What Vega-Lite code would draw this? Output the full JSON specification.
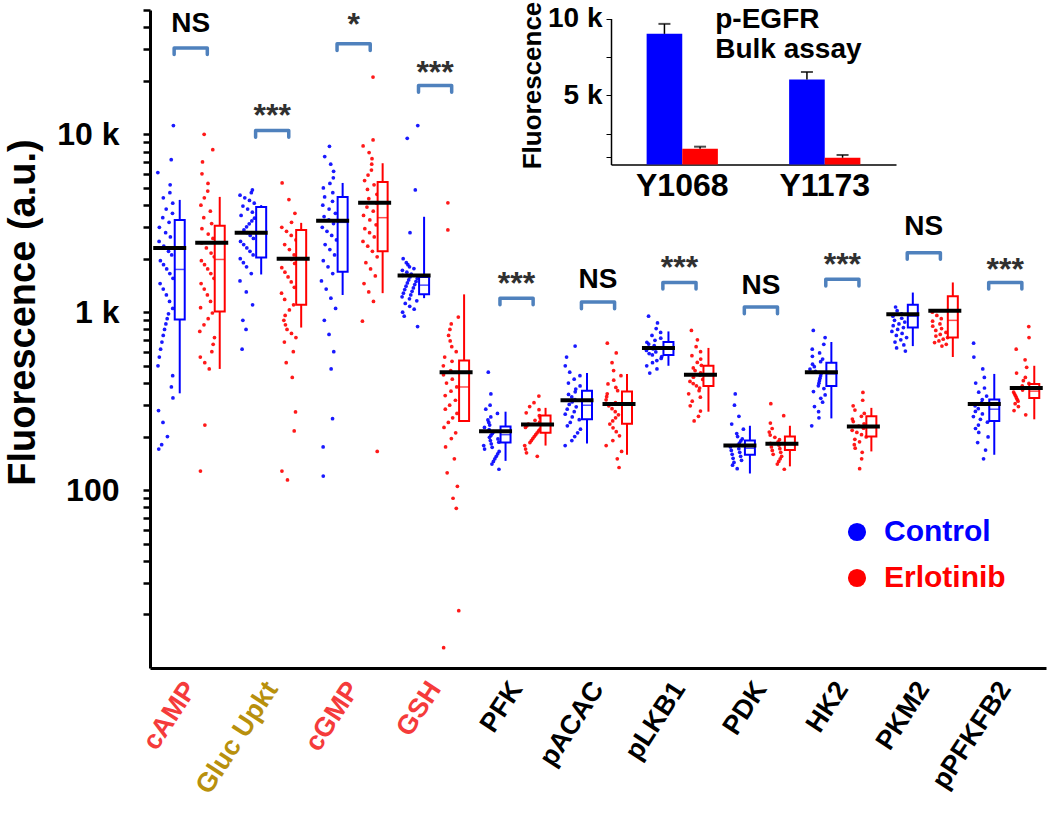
{
"$schema": "https://vega.github.io/schema/vega-lite/v6.json",
"width": 896, "height": 658,
"autosize": {"type": "none"},
"padding": {"left": 150, "top": 10, "right": 4, "bottom": 157},
"config": {"view": {"stroke": null}, "font": "Liberation Sans"},
"datasets": {
"pts": [
{"c":"cAMP","g":"Control","v":11200},{"c":"cAMP","g":"Control","v":7200},{"c":"cAMP","g":"Control","v":6100},{"c":"cAMP","g":"Control","v":5200},{"c":"cAMP","g":"Control","v":4700},{"c":"cAMP","g":"Control","v":4400},{"c":"cAMP","g":"Control","v":4100},{"c":"cAMP","g":"Control","v":3800},{"c":"cAMP","g":"Control","v":3600},{"c":"cAMP","g":"Control","v":3400},{"c":"cAMP","g":"Control","v":3200},{"c":"cAMP","g":"Control","v":3000},{"c":"cAMP","g":"Control","v":2800},{"c":"cAMP","g":"Control","v":2650},{"c":"cAMP","g":"Control","v":2500},{"c":"cAMP","g":"Control","v":2350},{"c":"cAMP","g":"Control","v":2200},{"c":"cAMP","g":"Control","v":2100},{"c":"cAMP","g":"Control","v":1950},{"c":"cAMP","g":"Control","v":1850},{"c":"cAMP","g":"Control","v":1750},{"c":"cAMP","g":"Control","v":1650},{"c":"cAMP","g":"Control","v":1550},{"c":"cAMP","g":"Control","v":1450},{"c":"cAMP","g":"Control","v":1350},{"c":"cAMP","g":"Control","v":1250},{"c":"cAMP","g":"Control","v":1150},{"c":"cAMP","g":"Control","v":1050},{"c":"cAMP","g":"Control","v":980},{"c":"cAMP","g":"Control","v":920},{"c":"cAMP","g":"Control","v":860},{"c":"cAMP","g":"Control","v":800},{"c":"cAMP","g":"Control","v":740},{"c":"cAMP","g":"Control","v":680},{"c":"cAMP","g":"Control","v":620},{"c":"cAMP","g":"Control","v":560},{"c":"cAMP","g":"Control","v":500},{"c":"cAMP","g":"Control","v":440},{"c":"cAMP","g":"Control","v":380},{"c":"cAMP","g":"Control","v":330},{"c":"cAMP","g":"Control","v":280},{"c":"cAMP","g":"Control","v":240},{"c":"cAMP","g":"Control","v":200},{"c":"cAMP","g":"Control","v":180},{"c":"cAMP","g":"Control","v":170},
{"c":"cAMP","g":"Erlotinib","v":10000},{"c":"cAMP","g":"Erlotinib","v":8200},{"c":"cAMP","g":"Erlotinib","v":7000},{"c":"cAMP","g":"Erlotinib","v":6000},{"c":"cAMP","g":"Erlotinib","v":5300},{"c":"cAMP","g":"Erlotinib","v":4800},{"c":"cAMP","g":"Erlotinib","v":4400},{"c":"cAMP","g":"Erlotinib","v":4000},{"c":"cAMP","g":"Erlotinib","v":3700},{"c":"cAMP","g":"Erlotinib","v":3400},{"c":"cAMP","g":"Erlotinib","v":3150},{"c":"cAMP","g":"Erlotinib","v":2950},{"c":"cAMP","g":"Erlotinib","v":2750},{"c":"cAMP","g":"Erlotinib","v":2600},{"c":"cAMP","g":"Erlotinib","v":2450},{"c":"cAMP","g":"Erlotinib","v":2300},{"c":"cAMP","g":"Erlotinib","v":2150},{"c":"cAMP","g":"Erlotinib","v":2050},{"c":"cAMP","g":"Erlotinib","v":1950},{"c":"cAMP","g":"Erlotinib","v":1850},{"c":"cAMP","g":"Erlotinib","v":1750},{"c":"cAMP","g":"Erlotinib","v":1650},{"c":"cAMP","g":"Erlotinib","v":1550},{"c":"cAMP","g":"Erlotinib","v":1450},{"c":"cAMP","g":"Erlotinib","v":1350},{"c":"cAMP","g":"Erlotinib","v":1250},{"c":"cAMP","g":"Erlotinib","v":1150},{"c":"cAMP","g":"Erlotinib","v":1060},{"c":"cAMP","g":"Erlotinib","v":990},{"c":"cAMP","g":"Erlotinib","v":920},{"c":"cAMP","g":"Erlotinib","v":850},{"c":"cAMP","g":"Erlotinib","v":780},{"c":"cAMP","g":"Erlotinib","v":720},{"c":"cAMP","g":"Erlotinib","v":660},{"c":"cAMP","g":"Erlotinib","v":600},{"c":"cAMP","g":"Erlotinib","v":560},{"c":"cAMP","g":"Erlotinib","v":520},{"c":"cAMP","g":"Erlotinib","v":480},{"c":"cAMP","g":"Erlotinib","v":232},{"c":"cAMP","g":"Erlotinib","v":128},
{"c":"Gluc Upkt","g":"Control","v":4870},{"c":"Gluc Upkt","g":"Control","v":4700},{"c":"Gluc Upkt","g":"Control","v":4550},{"c":"Gluc Upkt","g":"Control","v":4400},{"c":"Gluc Upkt","g":"Control","v":4250},{"c":"Gluc Upkt","g":"Control","v":4100},{"c":"Gluc Upkt","g":"Control","v":3950},{"c":"Gluc Upkt","g":"Control","v":3800},{"c":"Gluc Upkt","g":"Control","v":3650},{"c":"Gluc Upkt","g":"Control","v":3500},{"c":"Gluc Upkt","g":"Control","v":3380},{"c":"Gluc Upkt","g":"Control","v":3260},{"c":"Gluc Upkt","g":"Control","v":3140},{"c":"Gluc Upkt","g":"Control","v":3020},{"c":"Gluc Upkt","g":"Control","v":2900},{"c":"Gluc Upkt","g":"Control","v":2800},{"c":"Gluc Upkt","g":"Control","v":2700},{"c":"Gluc Upkt","g":"Control","v":2600},{"c":"Gluc Upkt","g":"Control","v":2500},{"c":"Gluc Upkt","g":"Control","v":2400},{"c":"Gluc Upkt","g":"Control","v":2300},{"c":"Gluc Upkt","g":"Control","v":2200},{"c":"Gluc Upkt","g":"Control","v":2100},{"c":"Gluc Upkt","g":"Control","v":2000},{"c":"Gluc Upkt","g":"Control","v":1900},{"c":"Gluc Upkt","g":"Control","v":1800},{"c":"Gluc Upkt","g":"Control","v":1650},{"c":"Gluc Upkt","g":"Control","v":1500},{"c":"Gluc Upkt","g":"Control","v":1300},{"c":"Gluc Upkt","g":"Control","v":1100},{"c":"Gluc Upkt","g":"Control","v":900},{"c":"Gluc Upkt","g":"Control","v":800},{"c":"Gluc Upkt","g":"Control","v":620},
{"c":"Gluc Upkt","g":"Erlotinib","v":5330},{"c":"Gluc Upkt","g":"Erlotinib","v":4300},{"c":"Gluc Upkt","g":"Erlotinib","v":3600},{"c":"Gluc Upkt","g":"Erlotinib","v":3200},{"c":"Gluc Upkt","g":"Erlotinib","v":3000},{"c":"Gluc Upkt","g":"Erlotinib","v":2850},{"c":"Gluc Upkt","g":"Erlotinib","v":2700},{"c":"Gluc Upkt","g":"Erlotinib","v":2550},{"c":"Gluc Upkt","g":"Erlotinib","v":2400},{"c":"Gluc Upkt","g":"Erlotinib","v":2250},{"c":"Gluc Upkt","g":"Erlotinib","v":2100},{"c":"Gluc Upkt","g":"Erlotinib","v":1980},{"c":"Gluc Upkt","g":"Erlotinib","v":1880},{"c":"Gluc Upkt","g":"Erlotinib","v":1780},{"c":"Gluc Upkt","g":"Erlotinib","v":1680},{"c":"Gluc Upkt","g":"Erlotinib","v":1580},{"c":"Gluc Upkt","g":"Erlotinib","v":1480},{"c":"Gluc Upkt","g":"Erlotinib","v":1380},{"c":"Gluc Upkt","g":"Erlotinib","v":1280},{"c":"Gluc Upkt","g":"Erlotinib","v":1180},{"c":"Gluc Upkt","g":"Erlotinib","v":1100},{"c":"Gluc Upkt","g":"Erlotinib","v":1030},{"c":"Gluc Upkt","g":"Erlotinib","v":960},{"c":"Gluc Upkt","g":"Erlotinib","v":900},{"c":"Gluc Upkt","g":"Erlotinib","v":850},{"c":"Gluc Upkt","g":"Erlotinib","v":800},{"c":"Gluc Upkt","g":"Erlotinib","v":760},{"c":"Gluc Upkt","g":"Erlotinib","v":720},{"c":"Gluc Upkt","g":"Erlotinib","v":680},{"c":"Gluc Upkt","g":"Erlotinib","v":600},{"c":"Gluc Upkt","g":"Erlotinib","v":520},{"c":"Gluc Upkt","g":"Erlotinib","v":430},{"c":"Gluc Upkt","g":"Erlotinib","v":275},{"c":"Gluc Upkt","g":"Erlotinib","v":215},{"c":"Gluc Upkt","g":"Erlotinib","v":128},{"c":"Gluc Upkt","g":"Erlotinib","v":114},
{"c":"cGMP","g":"Control","v":8570},{"c":"cGMP","g":"Control","v":7500},{"c":"cGMP","g":"Control","v":6800},{"c":"cGMP","g":"Control","v":6200},{"c":"cGMP","g":"Control","v":5700},{"c":"cGMP","g":"Control","v":5300},{"c":"cGMP","g":"Control","v":5000},{"c":"cGMP","g":"Control","v":4700},{"c":"cGMP","g":"Control","v":4450},{"c":"cGMP","g":"Control","v":4200},{"c":"cGMP","g":"Control","v":4000},{"c":"cGMP","g":"Control","v":3800},{"c":"cGMP","g":"Control","v":3600},{"c":"cGMP","g":"Control","v":3450},{"c":"cGMP","g":"Control","v":3300},{"c":"cGMP","g":"Control","v":3150},{"c":"cGMP","g":"Control","v":3000},{"c":"cGMP","g":"Control","v":2850},{"c":"cGMP","g":"Control","v":2700},{"c":"cGMP","g":"Control","v":2550},{"c":"cGMP","g":"Control","v":2400},{"c":"cGMP","g":"Control","v":2250},{"c":"cGMP","g":"Control","v":2100},{"c":"cGMP","g":"Control","v":1950},{"c":"cGMP","g":"Control","v":1800},{"c":"cGMP","g":"Control","v":1650},{"c":"cGMP","g":"Control","v":1500},{"c":"cGMP","g":"Control","v":1350},{"c":"cGMP","g":"Control","v":1200},{"c":"cGMP","g":"Control","v":1050},{"c":"cGMP","g":"Control","v":900},{"c":"cGMP","g":"Control","v":750},{"c":"cGMP","g":"Control","v":600},{"c":"cGMP","g":"Control","v":480},{"c":"cGMP","g":"Control","v":252},{"c":"cGMP","g":"Control","v":175},{"c":"cGMP","g":"Control","v":120},
{"c":"cGMP","g":"Erlotinib","v":21000},{"c":"cGMP","g":"Erlotinib","v":9300},{"c":"cGMP","g":"Erlotinib","v":8600},{"c":"cGMP","g":"Erlotinib","v":7900},{"c":"cGMP","g":"Erlotinib","v":7300},{"c":"cGMP","g":"Erlotinib","v":6800},{"c":"cGMP","g":"Erlotinib","v":6300},{"c":"cGMP","g":"Erlotinib","v":5900},{"c":"cGMP","g":"Erlotinib","v":5500},{"c":"cGMP","g":"Erlotinib","v":5200},{"c":"cGMP","g":"Erlotinib","v":4900},{"c":"cGMP","g":"Erlotinib","v":4600},{"c":"cGMP","g":"Erlotinib","v":4350},{"c":"cGMP","g":"Erlotinib","v":4100},{"c":"cGMP","g":"Erlotinib","v":3900},{"c":"cGMP","g":"Erlotinib","v":3700},{"c":"cGMP","g":"Erlotinib","v":3500},{"c":"cGMP","g":"Erlotinib","v":3300},{"c":"cGMP","g":"Erlotinib","v":3100},{"c":"cGMP","g":"Erlotinib","v":2950},{"c":"cGMP","g":"Erlotinib","v":2800},{"c":"cGMP","g":"Erlotinib","v":2650},{"c":"cGMP","g":"Erlotinib","v":2500},{"c":"cGMP","g":"Erlotinib","v":2350},{"c":"cGMP","g":"Erlotinib","v":2200},{"c":"cGMP","g":"Erlotinib","v":2050},{"c":"cGMP","g":"Erlotinib","v":1900},{"c":"cGMP","g":"Erlotinib","v":1750},{"c":"cGMP","g":"Erlotinib","v":1600},{"c":"cGMP","g":"Erlotinib","v":1450},{"c":"cGMP","g":"Erlotinib","v":1300},{"c":"cGMP","g":"Erlotinib","v":1150},{"c":"cGMP","g":"Erlotinib","v":890},{"c":"cGMP","g":"Erlotinib","v":165},
{"c":"GSH","g":"Control","v":11200},{"c":"GSH","g":"Control","v":9500},{"c":"GSH","g":"Control","v":4870},{"c":"GSH","g":"Control","v":2800},{"c":"GSH","g":"Control","v":2000},{"c":"GSH","g":"Control","v":1900},{"c":"GSH","g":"Control","v":1850},{"c":"GSH","g":"Control","v":1800},{"c":"GSH","g":"Control","v":1760},{"c":"GSH","g":"Control","v":1720},{"c":"GSH","g":"Control","v":1680},{"c":"GSH","g":"Control","v":1640},{"c":"GSH","g":"Control","v":1610},{"c":"GSH","g":"Control","v":1580},{"c":"GSH","g":"Control","v":1550},{"c":"GSH","g":"Control","v":1520},{"c":"GSH","g":"Control","v":1490},{"c":"GSH","g":"Control","v":1460},{"c":"GSH","g":"Control","v":1430},{"c":"GSH","g":"Control","v":1400},{"c":"GSH","g":"Control","v":1370},{"c":"GSH","g":"Control","v":1340},{"c":"GSH","g":"Control","v":1310},{"c":"GSH","g":"Control","v":1280},{"c":"GSH","g":"Control","v":1250},{"c":"GSH","g":"Control","v":1220},{"c":"GSH","g":"Control","v":1190},{"c":"GSH","g":"Control","v":1160},{"c":"GSH","g":"Control","v":1120},{"c":"GSH","g":"Control","v":1080},{"c":"GSH","g":"Control","v":1040},{"c":"GSH","g":"Control","v":1000},{"c":"GSH","g":"Control","v":950},{"c":"GSH","g":"Control","v":830},
{"c":"GSH","g":"Erlotinib","v":4120},{"c":"GSH","g":"Erlotinib","v":2900},{"c":"GSH","g":"Erlotinib","v":940},{"c":"GSH","g":"Erlotinib","v":860},{"c":"GSH","g":"Erlotinib","v":800},{"c":"GSH","g":"Erlotinib","v":740},{"c":"GSH","g":"Erlotinib","v":690},{"c":"GSH","g":"Erlotinib","v":640},{"c":"GSH","g":"Erlotinib","v":600},{"c":"GSH","g":"Erlotinib","v":560},{"c":"GSH","g":"Erlotinib","v":530},{"c":"GSH","g":"Erlotinib","v":500},{"c":"GSH","g":"Erlotinib","v":470},{"c":"GSH","g":"Erlotinib","v":445},{"c":"GSH","g":"Erlotinib","v":420},{"c":"GSH","g":"Erlotinib","v":400},{"c":"GSH","g":"Erlotinib","v":380},{"c":"GSH","g":"Erlotinib","v":360},{"c":"GSH","g":"Erlotinib","v":340},{"c":"GSH","g":"Erlotinib","v":320},{"c":"GSH","g":"Erlotinib","v":300},{"c":"GSH","g":"Erlotinib","v":285},{"c":"GSH","g":"Erlotinib","v":270},{"c":"GSH","g":"Erlotinib","v":255},{"c":"GSH","g":"Erlotinib","v":240},{"c":"GSH","g":"Erlotinib","v":225},{"c":"GSH","g":"Erlotinib","v":210},{"c":"GSH","g":"Erlotinib","v":195},{"c":"GSH","g":"Erlotinib","v":175},{"c":"GSH","g":"Erlotinib","v":150},{"c":"GSH","g":"Erlotinib","v":125},{"c":"GSH","g":"Erlotinib","v":105},{"c":"GSH","g":"Erlotinib","v":90},{"c":"GSH","g":"Erlotinib","v":79},{"c":"GSH","g":"Erlotinib","v":21},{"c":"GSH","g":"Erlotinib","v":13},
{"c":"PFK","g":"Control","v":460},{"c":"PFK","g":"Control","v":347},{"c":"PFK","g":"Control","v":300},{"c":"PFK","g":"Control","v":285},{"c":"PFK","g":"Control","v":270},{"c":"PFK","g":"Control","v":258},{"c":"PFK","g":"Control","v":248},{"c":"PFK","g":"Control","v":240},{"c":"PFK","g":"Control","v":232},{"c":"PFK","g":"Control","v":225},{"c":"PFK","g":"Control","v":219},{"c":"PFK","g":"Control","v":213},{"c":"PFK","g":"Control","v":208},{"c":"PFK","g":"Control","v":203},{"c":"PFK","g":"Control","v":198},{"c":"PFK","g":"Control","v":194},{"c":"PFK","g":"Control","v":190},{"c":"PFK","g":"Control","v":186},{"c":"PFK","g":"Control","v":182},{"c":"PFK","g":"Control","v":178},{"c":"PFK","g":"Control","v":174},{"c":"PFK","g":"Control","v":170},{"c":"PFK","g":"Control","v":165},{"c":"PFK","g":"Control","v":160},{"c":"PFK","g":"Control","v":155},{"c":"PFK","g":"Control","v":150},{"c":"PFK","g":"Control","v":145},{"c":"PFK","g":"Control","v":140},{"c":"PFK","g":"Control","v":131},
{"c":"PFK","g":"Erlotinib","v":338},{"c":"PFK","g":"Erlotinib","v":310},{"c":"PFK","g":"Erlotinib","v":295},{"c":"PFK","g":"Erlotinib","v":283},{"c":"PFK","g":"Erlotinib","v":272},{"c":"PFK","g":"Erlotinib","v":262},{"c":"PFK","g":"Erlotinib","v":254},{"c":"PFK","g":"Erlotinib","v":247},{"c":"PFK","g":"Erlotinib","v":241},{"c":"PFK","g":"Erlotinib","v":235},{"c":"PFK","g":"Erlotinib","v":230},{"c":"PFK","g":"Erlotinib","v":225},{"c":"PFK","g":"Erlotinib","v":220},{"c":"PFK","g":"Erlotinib","v":215},{"c":"PFK","g":"Erlotinib","v":210},{"c":"PFK","g":"Erlotinib","v":205},{"c":"PFK","g":"Erlotinib","v":200},{"c":"PFK","g":"Erlotinib","v":195},{"c":"PFK","g":"Erlotinib","v":190},{"c":"PFK","g":"Erlotinib","v":185},{"c":"PFK","g":"Erlotinib","v":178},{"c":"PFK","g":"Erlotinib","v":170},{"c":"PFK","g":"Erlotinib","v":162},{"c":"PFK","g":"Erlotinib","v":155},
{"c":"pACAC","g":"Control","v":645},{"c":"pACAC","g":"Control","v":560},{"c":"pACAC","g":"Control","v":500},{"c":"pACAC","g":"Control","v":460},{"c":"pACAC","g":"Control","v":440},{"c":"pACAC","g":"Control","v":420},{"c":"pACAC","g":"Control","v":400},{"c":"pACAC","g":"Control","v":385},{"c":"pACAC","g":"Control","v":370},{"c":"pACAC","g":"Control","v":357},{"c":"pACAC","g":"Control","v":345},{"c":"pACAC","g":"Control","v":334},{"c":"pACAC","g":"Control","v":323},{"c":"pACAC","g":"Control","v":313},{"c":"pACAC","g":"Control","v":303},{"c":"pACAC","g":"Control","v":294},{"c":"pACAC","g":"Control","v":285},{"c":"pACAC","g":"Control","v":276},{"c":"pACAC","g":"Control","v":267},{"c":"pACAC","g":"Control","v":258},{"c":"pACAC","g":"Control","v":249},{"c":"pACAC","g":"Control","v":240},{"c":"pACAC","g":"Control","v":230},{"c":"pACAC","g":"Control","v":220},{"c":"pACAC","g":"Control","v":210},{"c":"pACAC","g":"Control","v":200},{"c":"pACAC","g":"Control","v":190},{"c":"pACAC","g":"Control","v":178},
{"c":"pACAC","g":"Erlotinib","v":670},{"c":"pACAC","g":"Erlotinib","v":590},{"c":"pACAC","g":"Erlotinib","v":520},{"c":"pACAC","g":"Erlotinib","v":470},{"c":"pACAC","g":"Erlotinib","v":440},{"c":"pACAC","g":"Erlotinib","v":415},{"c":"pACAC","g":"Erlotinib","v":395},{"c":"pACAC","g":"Erlotinib","v":378},{"c":"pACAC","g":"Erlotinib","v":362},{"c":"pACAC","g":"Erlotinib","v":348},{"c":"pACAC","g":"Erlotinib","v":335},{"c":"pACAC","g":"Erlotinib","v":322},{"c":"pACAC","g":"Erlotinib","v":310},{"c":"pACAC","g":"Erlotinib","v":298},{"c":"pACAC","g":"Erlotinib","v":287},{"c":"pACAC","g":"Erlotinib","v":276},{"c":"pACAC","g":"Erlotinib","v":265},{"c":"pACAC","g":"Erlotinib","v":255},{"c":"pACAC","g":"Erlotinib","v":245},{"c":"pACAC","g":"Erlotinib","v":235},{"c":"pACAC","g":"Erlotinib","v":224},{"c":"pACAC","g":"Erlotinib","v":213},{"c":"pACAC","g":"Erlotinib","v":202},{"c":"pACAC","g":"Erlotinib","v":190},{"c":"pACAC","g":"Erlotinib","v":178},{"c":"pACAC","g":"Erlotinib","v":165},{"c":"pACAC","g":"Erlotinib","v":150},{"c":"pACAC","g":"Erlotinib","v":134},
{"c":"pLKB1","g":"Control","v":950},{"c":"pLKB1","g":"Control","v":870},{"c":"pLKB1","g":"Control","v":810},{"c":"pLKB1","g":"Control","v":770},{"c":"pLKB1","g":"Control","v":740},{"c":"pLKB1","g":"Control","v":715},{"c":"pLKB1","g":"Control","v":695},{"c":"pLKB1","g":"Control","v":678},{"c":"pLKB1","g":"Control","v":662},{"c":"pLKB1","g":"Control","v":648},{"c":"pLKB1","g":"Control","v":635},{"c":"pLKB1","g":"Control","v":622},{"c":"pLKB1","g":"Control","v":610},{"c":"pLKB1","g":"Control","v":598},{"c":"pLKB1","g":"Control","v":586},{"c":"pLKB1","g":"Control","v":575},{"c":"pLKB1","g":"Control","v":563},{"c":"pLKB1","g":"Control","v":550},{"c":"pLKB1","g":"Control","v":535},{"c":"pLKB1","g":"Control","v":520},{"c":"pLKB1","g":"Control","v":500},{"c":"pLKB1","g":"Control","v":480},{"c":"pLKB1","g":"Control","v":455},
{"c":"pLKB1","g":"Erlotinib","v":790},{"c":"pLKB1","g":"Erlotinib","v":700},{"c":"pLKB1","g":"Erlotinib","v":640},{"c":"pLKB1","g":"Erlotinib","v":600},{"c":"pLKB1","g":"Erlotinib","v":570},{"c":"pLKB1","g":"Erlotinib","v":545},{"c":"pLKB1","g":"Erlotinib","v":522},{"c":"pLKB1","g":"Erlotinib","v":503},{"c":"pLKB1","g":"Erlotinib","v":486},{"c":"pLKB1","g":"Erlotinib","v":470},{"c":"pLKB1","g":"Erlotinib","v":456},{"c":"pLKB1","g":"Erlotinib","v":443},{"c":"pLKB1","g":"Erlotinib","v":431},{"c":"pLKB1","g":"Erlotinib","v":419},{"c":"pLKB1","g":"Erlotinib","v":408},{"c":"pLKB1","g":"Erlotinib","v":397},{"c":"pLKB1","g":"Erlotinib","v":386},{"c":"pLKB1","g":"Erlotinib","v":375},{"c":"pLKB1","g":"Erlotinib","v":362},{"c":"pLKB1","g":"Erlotinib","v":348},{"c":"pLKB1","g":"Erlotinib","v":333},{"c":"pLKB1","g":"Erlotinib","v":316},{"c":"pLKB1","g":"Erlotinib","v":298},{"c":"pLKB1","g":"Erlotinib","v":278},{"c":"pLKB1","g":"Erlotinib","v":260},{"c":"pLKB1","g":"Erlotinib","v":245},
{"c":"PDK","g":"Control","v":347},{"c":"PDK","g":"Control","v":300},{"c":"PDK","g":"Control","v":260},{"c":"PDK","g":"Control","v":235},{"c":"PDK","g":"Control","v":220},{"c":"PDK","g":"Control","v":208},{"c":"PDK","g":"Control","v":200},{"c":"PDK","g":"Control","v":194},{"c":"PDK","g":"Control","v":189},{"c":"PDK","g":"Control","v":184},{"c":"PDK","g":"Control","v":179},{"c":"PDK","g":"Control","v":175},{"c":"PDK","g":"Control","v":171},{"c":"PDK","g":"Control","v":167},{"c":"PDK","g":"Control","v":163},{"c":"PDK","g":"Control","v":159},{"c":"PDK","g":"Control","v":155},{"c":"PDK","g":"Control","v":151},{"c":"PDK","g":"Control","v":147},{"c":"PDK","g":"Control","v":143},{"c":"PDK","g":"Control","v":138},{"c":"PDK","g":"Control","v":132},
{"c":"PDK","g":"Erlotinib","v":306},{"c":"PDK","g":"Erlotinib","v":262},{"c":"PDK","g":"Erlotinib","v":238},{"c":"PDK","g":"Erlotinib","v":222},{"c":"PDK","g":"Erlotinib","v":212},{"c":"PDK","g":"Erlotinib","v":204},{"c":"PDK","g":"Erlotinib","v":198},{"c":"PDK","g":"Erlotinib","v":192},{"c":"PDK","g":"Erlotinib","v":187},{"c":"PDK","g":"Erlotinib","v":183},{"c":"PDK","g":"Erlotinib","v":179},{"c":"PDK","g":"Erlotinib","v":175},{"c":"PDK","g":"Erlotinib","v":171},{"c":"PDK","g":"Erlotinib","v":167},{"c":"PDK","g":"Erlotinib","v":163},{"c":"PDK","g":"Erlotinib","v":159},{"c":"PDK","g":"Erlotinib","v":155},{"c":"PDK","g":"Erlotinib","v":150},{"c":"PDK","g":"Erlotinib","v":145},{"c":"PDK","g":"Erlotinib","v":140},{"c":"PDK","g":"Erlotinib","v":131},
{"c":"HK2","g":"Control","v":790},{"c":"HK2","g":"Control","v":720},{"c":"HK2","g":"Control","v":660},{"c":"HK2","g":"Control","v":620},{"c":"HK2","g":"Control","v":590},{"c":"HK2","g":"Control","v":565},{"c":"HK2","g":"Control","v":545},{"c":"HK2","g":"Control","v":527},{"c":"HK2","g":"Control","v":510},{"c":"HK2","g":"Control","v":494},{"c":"HK2","g":"Control","v":479},{"c":"HK2","g":"Control","v":465},{"c":"HK2","g":"Control","v":451},{"c":"HK2","g":"Control","v":438},{"c":"HK2","g":"Control","v":425},{"c":"HK2","g":"Control","v":412},{"c":"HK2","g":"Control","v":399},{"c":"HK2","g":"Control","v":386},{"c":"HK2","g":"Control","v":372},{"c":"HK2","g":"Control","v":358},{"c":"HK2","g":"Control","v":343},{"c":"HK2","g":"Control","v":328},{"c":"HK2","g":"Control","v":312},{"c":"HK2","g":"Control","v":295},{"c":"HK2","g":"Control","v":276},{"c":"HK2","g":"Control","v":255},{"c":"HK2","g":"Control","v":230},
{"c":"HK2","g":"Erlotinib","v":354},{"c":"HK2","g":"Erlotinib","v":320},{"c":"HK2","g":"Erlotinib","v":298},{"c":"HK2","g":"Erlotinib","v":282},{"c":"HK2","g":"Erlotinib","v":270},{"c":"HK2","g":"Erlotinib","v":260},{"c":"HK2","g":"Erlotinib","v":251},{"c":"HK2","g":"Erlotinib","v":243},{"c":"HK2","g":"Erlotinib","v":236},{"c":"HK2","g":"Erlotinib","v":229},{"c":"HK2","g":"Erlotinib","v":223},{"c":"HK2","g":"Erlotinib","v":217},{"c":"HK2","g":"Erlotinib","v":211},{"c":"HK2","g":"Erlotinib","v":205},{"c":"HK2","g":"Erlotinib","v":199},{"c":"HK2","g":"Erlotinib","v":193},{"c":"HK2","g":"Erlotinib","v":187},{"c":"HK2","g":"Erlotinib","v":180},{"c":"HK2","g":"Erlotinib","v":172},{"c":"HK2","g":"Erlotinib","v":163},{"c":"HK2","g":"Erlotinib","v":150},{"c":"HK2","g":"Erlotinib","v":132},
{"c":"PKM2","g":"Control","v":1070},{"c":"PKM2","g":"Control","v":1020},{"c":"PKM2","g":"Control","v":980},{"c":"PKM2","g":"Control","v":950},{"c":"PKM2","g":"Control","v":925},{"c":"PKM2","g":"Control","v":900},{"c":"PKM2","g":"Control","v":880},{"c":"PKM2","g":"Control","v":860},{"c":"PKM2","g":"Control","v":840},{"c":"PKM2","g":"Control","v":820},{"c":"PKM2","g":"Control","v":800},{"c":"PKM2","g":"Control","v":780},{"c":"PKM2","g":"Control","v":760},{"c":"PKM2","g":"Control","v":740},{"c":"PKM2","g":"Control","v":720},{"c":"PKM2","g":"Control","v":700},{"c":"PKM2","g":"Control","v":680},{"c":"PKM2","g":"Control","v":655},{"c":"PKM2","g":"Control","v":630},{"c":"PKM2","g":"Control","v":605},
{"c":"PKM2","g":"Erlotinib","v":1000},{"c":"PKM2","g":"Erlotinib","v":960},{"c":"PKM2","g":"Erlotinib","v":920},{"c":"PKM2","g":"Erlotinib","v":890},{"c":"PKM2","g":"Erlotinib","v":860},{"c":"PKM2","g":"Erlotinib","v":835},{"c":"PKM2","g":"Erlotinib","v":810},{"c":"PKM2","g":"Erlotinib","v":790},{"c":"PKM2","g":"Erlotinib","v":770},{"c":"PKM2","g":"Erlotinib","v":750},{"c":"PKM2","g":"Erlotinib","v":735},{"c":"PKM2","g":"Erlotinib","v":720},{"c":"PKM2","g":"Erlotinib","v":705},{"c":"PKM2","g":"Erlotinib","v":690},{"c":"PKM2","g":"Erlotinib","v":675},{"c":"PKM2","g":"Erlotinib","v":660},{"c":"PKM2","g":"Erlotinib","v":645},
{"c":"pPFKFB2","g":"Control","v":670},{"c":"pPFKFB2","g":"Control","v":560},{"c":"pPFKFB2","g":"Control","v":480},{"c":"pPFKFB2","g":"Control","v":430},{"c":"pPFKFB2","g":"Control","v":400},{"c":"pPFKFB2","g":"Control","v":375},{"c":"pPFKFB2","g":"Control","v":355},{"c":"pPFKFB2","g":"Control","v":338},{"c":"pPFKFB2","g":"Control","v":323},{"c":"pPFKFB2","g":"Control","v":310},{"c":"pPFKFB2","g":"Control","v":298},{"c":"pPFKFB2","g":"Control","v":287},{"c":"pPFKFB2","g":"Control","v":277},{"c":"pPFKFB2","g":"Control","v":268},{"c":"pPFKFB2","g":"Control","v":259},{"c":"pPFKFB2","g":"Control","v":250},{"c":"pPFKFB2","g":"Control","v":241},{"c":"pPFKFB2","g":"Control","v":232},{"c":"pPFKFB2","g":"Control","v":222},{"c":"pPFKFB2","g":"Control","v":211},{"c":"pPFKFB2","g":"Control","v":199},{"c":"pPFKFB2","g":"Control","v":185},{"c":"pPFKFB2","g":"Control","v":168},{"c":"pPFKFB2","g":"Control","v":150},
{"c":"pPFKFB2","g":"Erlotinib","v":830},{"c":"pPFKFB2","g":"Erlotinib","v":720},{"c":"pPFKFB2","g":"Erlotinib","v":620},{"c":"pPFKFB2","g":"Erlotinib","v":540},{"c":"pPFKFB2","g":"Erlotinib","v":490},{"c":"pPFKFB2","g":"Erlotinib","v":455},{"c":"pPFKFB2","g":"Erlotinib","v":430},{"c":"pPFKFB2","g":"Erlotinib","v":412},{"c":"pPFKFB2","g":"Erlotinib","v":398},{"c":"pPFKFB2","g":"Erlotinib","v":386},{"c":"pPFKFB2","g":"Erlotinib","v":375},{"c":"pPFKFB2","g":"Erlotinib","v":365},{"c":"pPFKFB2","g":"Erlotinib","v":356},{"c":"pPFKFB2","g":"Erlotinib","v":348},{"c":"pPFKFB2","g":"Erlotinib","v":340},{"c":"pPFKFB2","g":"Erlotinib","v":332},{"c":"pPFKFB2","g":"Erlotinib","v":324},{"c":"pPFKFB2","g":"Erlotinib","v":316},{"c":"pPFKFB2","g":"Erlotinib","v":306},{"c":"pPFKFB2","g":"Erlotinib","v":295},{"c":"pPFKFB2","g":"Erlotinib","v":280},{"c":"pPFKFB2","g":"Erlotinib","v":265}
],
"stats": [
{"c":"cAMP","g":"Control","lo":350,"q1":910,"med":1740,"q3":3300,"hi":4280,"mean":2300},
{"c":"cAMP","g":"Erlotinib","lo":480,"q1":1010,"med":1980,"q3":3060,"hi":4450,"mean":2460},
{"c":"Gluc Upkt","g":"Control","lo":1630,"q1":2030,"med":2800,"q3":3910,"hi":4000,"mean":2800},
{"c":"Gluc Upkt","g":"Erlotinib","lo":820,"q1":1100,"med":2000,"q3":2900,"hi":3180,"mean":2000},
{"c":"cGMP","g":"Control","lo":1250,"q1":1690,"med":3200,"q3":4450,"hi":5330,"mean":3270},
{"c":"cGMP","g":"Erlotinib","lo":1280,"q1":2200,"med":3400,"q3":5400,"hi":6880,"mean":4120},
{"c":"GSH","g":"Control","lo":1200,"q1":1260,"med":1420,"q3":1580,"hi":3440,"mean":1610},
{"c":"GSH","g":"Erlotinib","lo":245,"q1":245,"med":380,"q3":535,"hi":1260,"mean":460},
{"c":"PFK","g":"Control","lo":146,"q1":185,"med":205,"q3":228,"hi":276,"mean":214},
{"c":"PFK","g":"Erlotinib","lo":178,"q1":210,"med":235,"q3":263,"hi":290,"mean":234},
{"c":"pACAC","g":"Control","lo":183,"q1":250,"med":300,"q3":362,"hi":455,"mean":320},
{"c":"pACAC","g":"Erlotinib","lo":158,"q1":236,"med":300,"q3":358,"hi":450,"mean":305},
{"c":"pLKB1","g":"Control","lo":500,"q1":575,"med":625,"q3":680,"hi":780,"mean":630},
{"c":"pLKB1","g":"Erlotinib","lo":276,"q1":385,"med":440,"q3":500,"hi":630,"mean":445},
{"c":"PDK","g":"Control","lo":124,"q1":158,"med":172,"q3":190,"hi":230,"mean":178},
{"c":"PDK","g":"Erlotinib","lo":136,"q1":168,"med":180,"q3":200,"hi":230,"mean":182},
{"c":"HK2","g":"Control","lo":253,"q1":385,"med":450,"q3":520,"hi":680,"mean":460},
{"c":"HK2","g":"Erlotinib","lo":165,"q1":200,"med":225,"q3":260,"hi":290,"mean":228},
{"c":"PKM2","g":"Control","lo":645,"q1":820,"med":950,"q3":1100,"hi":1290,"mean":975},
{"c":"PKM2","g":"Erlotinib","lo":560,"q1":720,"med":900,"q3":1230,"hi":1470,"mean":1020},
{"c":"pPFKFB2","g":"Control","lo":158,"q1":245,"med":285,"q3":323,"hi":450,"mean":305},
{"c":"pPFKFB2","g":"Erlotinib","lo":250,"q1":330,"med":360,"q3":395,"hi":500,"mean":375}
],
"ann": [
{"c":"cAMP","b":30600,"t":41600,"lab":"NS"},
{"c":"Gluc Upkt","b":10500,"t":12700,"lab":"***"},
{"c":"cGMP","b":32300,"t":41000,"lab":"*"},
{"c":"GSH","b":18800,"t":22000,"lab":"***"},
{"c":"PFK","b":1200,"t":1440,"lab":"***"},
{"c":"pACAC","b":1140,"t":1510,"lab":"NS"},
{"c":"pLKB1","b":1470,"t":1770,"lab":"***"},
{"c":"PDK","b":1070,"t":1400,"lab":"NS"},
{"c":"HK2","b":1530,"t":1840,"lab":"***"},
{"c":"PKM2","b":2160,"t":3020,"lab":"NS"},
{"c":"pPFKFB2","b":1470,"t":1730,"lab":"***"}
],
"inset": [
{"s":"Y1068","g":"Control","v":9000,"hi":9650},
{"s":"Y1068","g":"Erlotinib","v":1530,"hi":1660},
{"s":"Y1173","g":"Control","v":6030,"hi":6520},
{"s":"Y1173","g":"Erlotinib","v":940,"hi":1120}
]
},
"layer": [
{
"encoding": {
"x": {"field": "c", "type": "nominal", "sort": null,
"scale": {"domain": ["cAMP","Gluc Upkt","cGMP","GSH","PFK","pACAC","pLKB1","PDK","HK2","PKM2","pPFKFB2"], "paddingInner": 0, "paddingOuter": 0},
"axis": {"title": null, "domainWidth": 3, "domainColor": "black", "ticks": false, "labelAngle": -57, "labelFontSize": 27, "labelFontWeight": "bold", "labelPadding": 16, "labelAlign": "right", "labelBaseline": "middle", "labelLimit": 0, "labelOverlap": false,
"labelColor": {"condition": [{"test": "datum.value === 'Gluc Upkt'", "value": "#b8900c"}, {"test": "datum.value === 'cAMP' || datum.value === 'cGMP' || datum.value === 'GSH'", "value": "#f53b3b"}], "value": "#000000"}}}
},
"layer": [
{"data": {"name": "pts"}, "transform": [{"filter": "datum.g === 'Control'"}],
"mark": {"type": "circle", "size": 14, "opacity": 0.9, "xOffset": {"expr": "((datum.v * 0.6180339) % 1) * 16 - 33"}},
"encoding": {
"y": {"field": "v", "type": "quantitative", "scale": {"type": "log", "domain": [10, 50000], "nice": false},
"axis": {"title": "Fluorescence (a.u.)", "titleFontSize": 38, "titleFontWeight": "bold", "titleColor": "black", "titleX": -116, "titleY": 302, "titleAngle": -90, "titleAlign": "center", "titleBaseline": "alphabetic",
"values": [20,30,40,50,60,70,80,90,100,200,300,400,500,600,700,800,900,1000,2000,3000,4000,5000,6000,7000,8000,9000,10000,20000,30000,40000,50000],
"labelExpr": "datum.value == 10000 ? '10 k' : datum.value == 1000 ? '1 k' : datum.value == 100 ? '100' : ''",
"labelFontSize": 32, "labelFontWeight": "bold", "labelColor": "black", "labelPadding": 24, "labelOverlap": false, "tickSize": 7, "tickWidth": 2.5, "tickColor": "black", "domainWidth": 3, "domainColor": "black", "grid": false}},
"color": {"field": "g", "type": "nominal", "scale": {"domain": ["Control", "Erlotinib"], "range": ["#0000ff", "#ff0000"]},
"legend": {"orient": "none", "legendX": 692, "legendY": 507, "title": null, "symbolType": "circle", "symbolSize": 330, "symbolOpacity": 1, "symbolStrokeWidth": 0, "labelFontSize": 30, "labelFontWeight": "bold", "labelOffset": 12, "rowPadding": 16,
"encode": {"labels": {"update": {"fill": {"signal": "datum.value === 'Control' ? '#0000ff' : '#ff0000'"}}}}}}
}},
{"data": {"name": "pts"}, "transform": [{"filter": "datum.g === 'Erlotinib'"}],
"mark": {"type": "circle", "size": 14, "opacity": 0.9, "xOffset": {"expr": "((datum.v * 0.6180339) % 1) * 16 + 8"}},
"encoding": {"y": {"field": "v", "type": "quantitative"}, "color": {"field": "g", "type": "nominal"}}},
{"data": {"name": "stats"}, "transform": [{"filter": "datum.g === 'Control'"}],
"mark": {"type": "rule", "strokeWidth": 2, "xOffset": -11},
"encoding": {"y": {"field": "lo", "type": "quantitative"}, "y2": {"field": "hi"}, "color": {"field": "g", "type": "nominal"}}},
{"data": {"name": "stats"}, "transform": [{"filter": "datum.g === 'Erlotinib'"}],
"mark": {"type": "rule", "strokeWidth": 2, "xOffset": 29},
"encoding": {"y": {"field": "lo", "type": "quantitative"}, "y2": {"field": "hi"}, "color": {"field": "g", "type": "nominal"}}},
{"data": {"name": "stats"}, "transform": [{"filter": "datum.g === 'Control'"}],
"mark": {"type": "bar", "filled": false, "fill": "white", "strokeWidth": 2, "width": 10, "xOffset": -11},
"encoding": {"y": {"field": "q1", "type": "quantitative"}, "y2": {"field": "q3"}, "color": {"field": "g", "type": "nominal"}}},
{"data": {"name": "stats"}, "transform": [{"filter": "datum.g === 'Erlotinib'"}],
"mark": {"type": "bar", "filled": false, "fill": "white", "strokeWidth": 2, "width": 10, "xOffset": 29},
"encoding": {"y": {"field": "q1", "type": "quantitative"}, "y2": {"field": "q3"}, "color": {"field": "g", "type": "nominal"}}},
{"data": {"name": "stats"}, "transform": [{"filter": "datum.g === 'Control'"}],
"mark": {"type": "tick", "size": 10, "thickness": 1.5, "xOffset": -11},
"encoding": {"y": {"field": "med", "type": "quantitative"}, "color": {"field": "g", "type": "nominal"}}},
{"data": {"name": "stats"}, "transform": [{"filter": "datum.g === 'Erlotinib'"}],
"mark": {"type": "tick", "size": 10, "thickness": 1.5, "xOffset": 29},
"encoding": {"y": {"field": "med", "type": "quantitative"}, "color": {"field": "g", "type": "nominal"}}},
{"data": {"name": "stats"}, "transform": [{"filter": "datum.g === 'Control'"}],
"mark": {"type": "tick", "size": 33, "thickness": 4, "color": "black", "opacity": 1, "xOffset": -21},
"encoding": {"y": {"field": "mean", "type": "quantitative"}}},
{"data": {"name": "stats"}, "transform": [{"filter": "datum.g === 'Erlotinib'"}],
"mark": {"type": "tick", "size": 33, "thickness": 4, "color": "black", "opacity": 1, "xOffset": 21},
"encoding": {"y": {"field": "mean", "type": "quantitative"}}},
{"data": {"name": "ann"},
"mark": {"type": "point", "shape": "M-1,0.4L-1,0L1,0L1,0.4", "size": 1100, "filled": false, "stroke": "#4f81bd", "strokeWidth": 3.5, "strokeCap": "round", "strokeJoin": "round", "opacity": 1},
"encoding": {"y": {"field": "b", "type": "quantitative"}}},
{"data": {"name": "ann"}, "transform": [{"filter": "datum.lab === 'NS'"}],
"mark": {"type": "text", "fontSize": 28, "fontWeight": "bold", "color": "black", "baseline": "middle", "align": "center"},
"encoding": {"y": {"field": "t", "type": "quantitative"}, "text": {"field": "lab"}}},
{"data": {"name": "ann"}, "transform": [{"filter": "datum.lab !== 'NS'"}],
"mark": {"type": "text", "fontSize": 32, "fontWeight": "bold", "color": "#303030", "baseline": "middle", "align": "center"},
"encoding": {"y": {"field": "t", "type": "quantitative"}, "text": {"field": "lab"}}}
]
},
{
"data": {"name": "inset"},
"encoding": {
"x": {"field": "s", "type": "nominal", "sort": null,
"scale": {"domain": ["Y1068", "Y1173"], "range": [461, 746], "paddingInner": 0.5, "paddingOuter": 0.25},
"axis": {"orient": "bottom", "offset": -503.5, "title": null, "ticks": false, "labelAngle": 0, "labelFontSize": 32, "labelFontWeight": "bold", "labelColor": "black", "labelPadding": 6, "domainColor": "black", "domainWidth": 1.5}}
},
"layer": [
{"mark": {"type": "bar"},
"encoding": {
"xOffset": {"field": "g", "type": "nominal", "scale": {"domain": ["Control", "Erlotinib"]}},
"y": {"field": "v", "type": "quantitative", "scale": {"domain": [500, 10000], "range": [154.5, 8.5], "zero": false, "nice": false},
"axis": {"orient": "left", "offset": -461, "title": "Fluorescence", "titleFontSize": 26, "titleFontWeight": "bold", "titleColor": "black", "titleX": -71, "titleY": 75, "titleAngle": -90, "titleAlign": "center", "titleBaseline": "alphabetic",
"values": [1000, 2500, 5000, 7500, 10000], "labelExpr": "datum.value == 10000 ? '10 k' : datum.value == 5000 ? '5 k' : ''", "labelFontSize": 28, "labelFontWeight": "bold", "labelColor": "black", "labelPadding": 4, "tickSize": 5, "tickColor": "black", "domainColor": "black", "domainWidth": 1.5, "grid": false}},
"y2": {"datum": 500},
"color": {"field": "g", "type": "nominal"}}},
{"mark": {"type": "rule", "color": "black", "strokeWidth": 1.5},
"encoding": {"xOffset": {"field": "g", "type": "nominal"}, "y": {"field": "v", "type": "quantitative"}, "y2": {"field": "hi"}}},
{"mark": {"type": "tick", "color": "black", "size": 12, "thickness": 2},
"encoding": {"xOffset": {"field": "g", "type": "nominal"}, "y": {"field": "hi", "type": "quantitative"}}},
{"data": {"values": [{"title": "p-EGFR"}]},
"mark": {"type": "text", "fontSize": 28, "fontWeight": "bold", "color": "black", "align": "left", "baseline": "alphabetic", "lineHeight": 30, "dx": 33},
"encoding": {"x": {"datum": "Y1068"}, "y": {"datum": 9380}, "text": {"value": ["p-EGFR", "Bulk assay"]}}}
]
}
],
"resolve": {"scale": {"x": "independent", "y": "independent"}}
}
